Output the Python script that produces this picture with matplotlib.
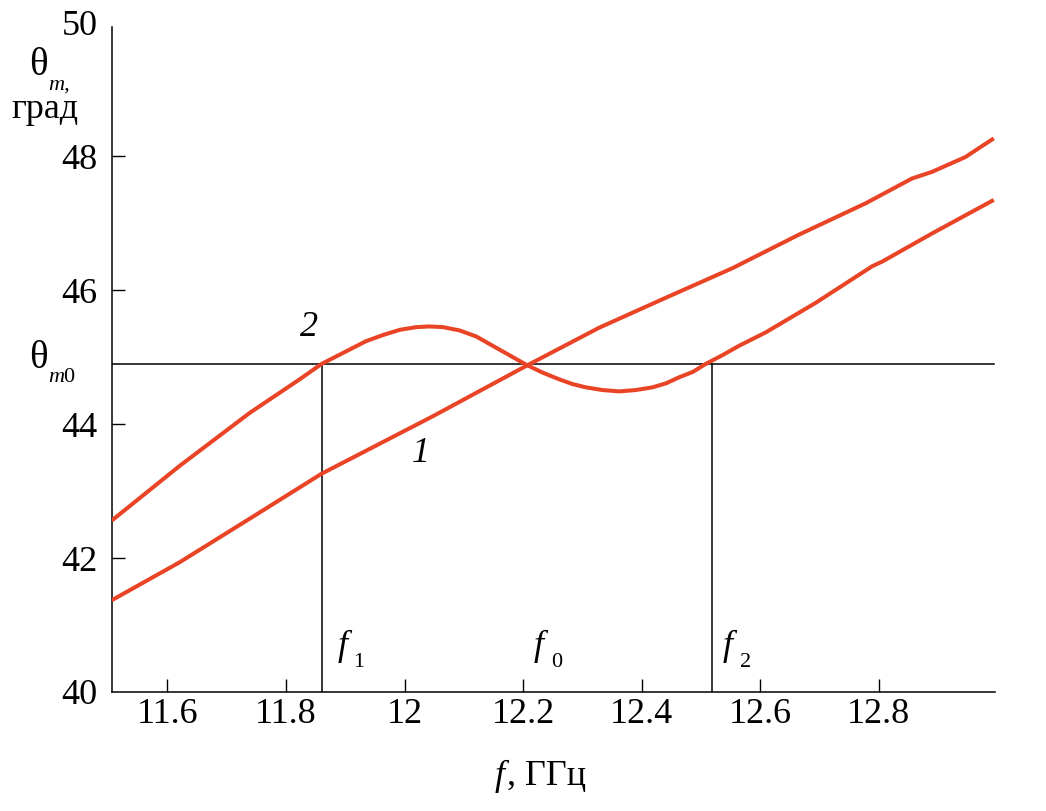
import matplotlib
matplotlib.use("Agg")
import matplotlib.pyplot as plt

# ---- data ----
f_curve1 = [11.506, 11.621, 11.739, 11.860, 12.048, 12.205, 12.328, 12.441,
            12.553, 12.665, 12.778, 12.856, 12.890, 12.946, 12.994]
theta_curve1 = [41.37, 41.94, 42.59, 43.26, 44.12, 44.87, 45.44, 45.89,
                46.33, 46.83, 47.30, 47.67, 47.77, 47.99, 48.27]

f_curve2 = [11.506, 11.621, 11.739, 11.823, 11.860, 11.935, 11.963, 11.992,
            12.020, 12.042, 12.065, 12.093, 12.121, 12.149, 12.177, 12.205,
            12.233, 12.261, 12.283, 12.306, 12.334, 12.362, 12.390, 12.418,
            12.441, 12.463, 12.486, 12.508, 12.536, 12.564, 12.609, 12.693,
            12.789, 12.806, 12.890, 12.994]
theta_curve2 = [42.56, 43.38, 44.17, 44.67, 44.90, 45.24, 45.33, 45.41,
                45.45, 45.46, 45.45, 45.40, 45.31, 45.17, 45.03, 44.89,
                44.77, 44.67, 44.60, 44.55, 44.51, 44.49, 44.51, 44.55,
                44.61, 44.70, 44.78, 44.90, 45.03, 45.17, 45.37, 45.81,
                46.36, 46.43, 46.85, 47.35]

theta_m0 = 44.9
f1, f0, f2 = 11.861, 12.205, 12.519

x_ticks = [11.6, 11.8, 12.0, 12.2, 12.4, 12.6, 12.8]
x_tick_labels = ["11.6", "11.8", "12", "12.2", "12.4", "12.6", "12.8"]
y_ticks = [40, 42, 44, 46, 48, 50]
y_tick_labels = ["40", "42", "44", "46", "48", "50"]

# ---- style ----
SERIF = "Liberation Serif"
RED = "#EA4426"
FS = 26
FSS = 16

W, H = 1046, 811
fig = plt.figure(figsize=(W / 100, H / 100), dpi=100)

def px(x, y):
    return x / W, 1 - y / H

left, right, top, bottom = 111.7, 995.0, 22.5, 692.0
ax = fig.add_axes([left / W, 1 - bottom / H, (right - left) / W, (bottom - top) / H])

for fx, ty in [(f_curve1, theta_curve1), (f_curve2, theta_curve2)]:
    ax.plot(fx, ty, color=RED, lw=2.9, solid_capstyle="butt",
            solid_joinstyle="round", zorder=3)

ax.plot([11.506, 12.994], [theta_m0, theta_m0], color="black", lw=1.1, zorder=2)
ax.plot([f1, f1], [40, theta_m0], color="black", lw=1.1, zorder=2)
ax.plot([f2, f2], [40, theta_m0], color="black", lw=1.1, zorder=2)

ax.set_xlim(11.506, 12.996)
ax.set_ylim(40, 50)
for s in ["top", "right"]:
    ax.spines[s].set_visible(False)
for s in ["left", "bottom"]:
    ax.spines[s].set_linewidth(1.1)
ax.spines["left"].set_bounds(40, 49.93)

ax.set_xticks(x_ticks)
ax.set_xticklabels(x_tick_labels, fontfamily=SERIF, fontsize=FS)
ax.set_yticks(y_ticks)
ax.set_yticklabels(y_tick_labels, fontfamily=SERIF, fontsize=FS)
ax.tick_params(axis="both", direction="in", length=9.5, width=1.0)
ax.tick_params(axis="x", pad=4)
ax.tick_params(axis="y", pad=10)
ax.yaxis.get_major_ticks()[-1].tick1line.set_visible(False)
ax.yaxis.get_major_ticks()[0].tick1line.set_visible(False)

# y-axis label
fig.text(*px(29, 75), "θ", fontfamily=SERIF, fontsize=FS + 2, va="baseline", ha="left")
fig.text(*px(48, 90), "m,", fontfamily=SERIF, fontsize=FSS, style="italic", va="baseline", ha="left")
fig.text(*px(11, 118), "град", fontfamily=SERIF, fontsize=FS, va="baseline", ha="left")

# theta_m0 label
fig.text(*px(29, 368), "θ", fontfamily=SERIF, fontsize=FS + 2, va="baseline", ha="left")
fig.text(*px(48, 382), "m", fontfamily=SERIF, fontsize=FSS, style="italic", va="baseline", ha="left")
fig.text(*px(63.5, 382), "0", fontfamily=SERIF, fontsize=FSS, va="baseline", ha="left")

# curve labels
fig.text(*px(309, 327), "2", fontfamily=SERIF, fontsize=FS, style="italic", va="center", ha="center")
fig.text(*px(421, 453), "1", fontfamily=SERIF, fontsize=FS, style="italic", va="center", ha="center")

# frequency markers
for xf, sub, xs in [(338, "1", 353), (534, "0", 551), (723, "2", 740)]:
    fig.text(*px(xf, 655), "f", fontfamily=SERIF, fontsize=FS, style="italic", va="baseline", ha="left")
    fig.text(*px(xs, 667), sub, fontfamily=SERIF, fontsize=FSS, va="baseline", ha="left")

# x-axis label
fig.text(*px(495, 785), "f", fontfamily=SERIF, fontsize=FS, style="italic", va="baseline", ha="left")
fig.text(*px(507, 785), ", ГГц", fontfamily=SERIF, fontsize=FS, va="baseline", ha="left")

fig.savefig("out.png", dpi=100, facecolor="white")
